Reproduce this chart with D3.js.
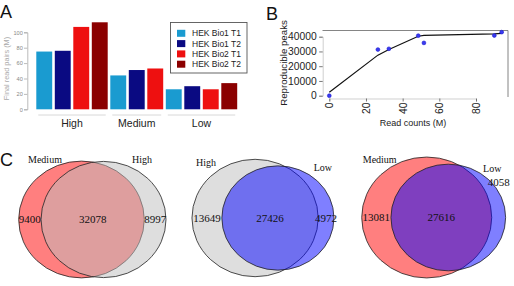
<!DOCTYPE html>
<html><head><meta charset="utf-8">
<script src="https://cdn.jsdelivr.net/npm/d3@7"></script>
<style>body{margin:0;background:#fff}svg{display:block}</style>
</head><body>
<svg id="c" width="514" height="286"></svg>
<script>
// ---------- Panel A data ----------
const groups = ["High", "Medium", "Low"];
const seriesNames = ["HEK Bio1 T1", "HEK Bio1 T2", "HEK Bio2 T1", "HEK Bio2 T2"];
const bio1T1 = [75, 44, 26];
const bio1T2 = [76, 51, 30];
const bio2T1 = [107, 53, 26];
const bio2T2 = [113, null, 34];
const yTicksA = [0, 20, 40, 60, 80, 100];

// ---------- Panel B data ----------
const readCounts = [0, 26.5, 32.5, 48.5, 51.6, 90, 94];
const peaks = [0, 31300, 31800, 40700, 35800, 40800, 43100];
const fitX = [0, 26.5, 32.5, 48.5, 51.6, 90, 94];
const fitY = [2300, 27500, 31300, 40300, 40900, 41900, 42200];
const xTicksB = [0, 20, 40, 60, 80];
const yTicksB = [0, 10000, 20000, 30000, 40000];

// ---------- Panel C data ----------
const vennLeftNames = ["Medium", "High", "Medium"];
const vennRightNames = ["High", "Low", "Low"];
const vennLeftOnly = [9400, 13649, 13081];
const vennOverlap = [32078, 27426, 27616];
const vennRightOnly = [8997, 4972, 4058];

// ---------- styles ----------
const seriesColors = ["#1a9bd0", "#0a0a82", "#ee1010", "#8b0000"];
const vennLeftColors = ["#ff0000", "#bebebe", "#ff0000"];
const vennRightColors = ["#bebebe", "#0000ff", "#0000ff"];
const SANS = "Liberation Sans, Arial, sans-serif";
const SERIF = "Liberation Serif, Times New Roman, serif";

const svg = d3.select("#c");

// panel letters
[["A", 0, 18], ["B", 266, 20], ["C", 0, 166]].forEach(([t, x, y]) => {
  svg.append("text").attr("x", x).attr("y", y).text(t)
    .attr("font-family", SANS).attr("font-size", 18).attr("fill", "#111");
});

// ================= Panel A =================
(function () {
  const seriesVals = [bio1T1, bio1T2, bio2T1, bio2T2];
  const bars = [];
  groups.forEach((g, gi) => {
    seriesNames.forEach((s, si) => {
      const v = seriesVals[si][gi];
      if (v != null) bars.push({ g: gi, s: si, v: v, id: bars.length });
    });
  });
  const x = d3.scaleBand().domain(bars.map(b => b.id)).range([35, 238.5])
    .paddingInner(0.14).paddingOuter(0.07);
  const y = d3.scaleLinear().domain([0, 100]).range([109.3, 32.3]);

  const gA = svg.append("g");
  gA.selectAll("rect.bar").data(bars).join("rect")
    .attr("x", d => x(d.id)).attr("width", x.bandwidth())
    .attr("y", d => y(d.v)).attr("height", d => y(0) - y(d.v))
    .attr("fill", d => seriesColors[d.s]);

  // y axis
  const ax = gA.append("g").attr("transform", "translate(27.3,0)")
    .call(d3.axisLeft(y).tickValues(yTicksA).tickSize(3.3).tickPadding(1.2));
  ax.select(".domain").attr("stroke", "#aaa").attr("stroke-width", 0.8);
  ax.selectAll(".tick line").attr("stroke", "#aaa").attr("stroke-width", 0.8);
  ax.selectAll("text").attr("font-family", SANS).attr("font-size", 5.6).attr("fill", "#888");

  gA.append("text").attr("transform", "translate(8.5,68.5) rotate(-90)")
    .attr("text-anchor", "middle").attr("font-family", SANS).attr("font-size", 7.3)
    .attr("fill", "#aaa").text("Final read pairs (M)");

  // group underline and labels
  groups.forEach((g, gi) => {
    const gb = bars.filter(b => b.g === gi);
    const x0 = x(gb[0].id) + 2, x1 = x(gb[gb.length - 1].id) + x.bandwidth() - 2;
    gA.append("line").attr("x1", x0).attr("x2", x1).attr("y1", 115).attr("y2", 115)
      .attr("stroke", "#d8d8d8").attr("stroke-width", 1);
    gA.append("text").attr("x", (x0 + x1) / 2).attr("y", 127).attr("text-anchor", "middle")
      .attr("font-family", SANS).attr("font-size", 10.5).attr("fill", "#222").text(g);
  });

  // legend
  const lg = gA.append("g");
  lg.append("rect").attr("x", 170.5).attr("y", 22.5).attr("width", 76.5).attr("height", 50.5)
    .attr("fill", "#fff").attr("stroke", "#555").attr("stroke-width", 0.9);
  seriesNames.forEach((s, i) => {
    const yy = 33.3 + i * 10.3;
    lg.append("rect").attr("x", 177).attr("y", yy - 3.5).attr("width", 8.3).attr("height", 7)
      .attr("fill", seriesColors[i]);
    lg.append("text").attr("x", 192).attr("y", yy + 3).attr("font-family", SANS)
      .attr("font-size", 8.5).attr("fill", "#222").text(s);
  });
})();

// ================= Panel B =================
(function () {
  const x = d3.scaleLinear().domain([0, 80]).range([329.3, 476]);
  const y = d3.scaleLinear().domain([0, 40000]).range([95.7, 36.7]);
  const gB = svg.append("g");

  // partial box (top and right)
  gB.append("path").attr("d", "M322.5,30.5H508V97")
    .attr("fill", "none").attr("stroke", "#666").attr("stroke-width", 0.8);

  const ay = gB.append("g").attr("transform", "translate(322.7,0)")
    .call(d3.axisLeft(y).tickValues(yTicksB).tickSize(3.5).tickPadding(2.5).tickFormat(d3.format("d")));
  ay.select(".domain").attr("stroke", "#bbb").attr("stroke-width", 0.7);
  ay.selectAll(".tick line").attr("stroke", "#555").attr("stroke-width", 0.8);
  ay.selectAll("text").attr("font-family", SANS).attr("font-size", 10.3).attr("fill", "#222");

  const axx = gB.append("g").attr("transform", "translate(0,98.5)")
    .call(d3.axisBottom(x).tickValues(xTicksB).tickSize(3).tickPadding(0));
  axx.select(".domain").attr("stroke", "#bbb").attr("stroke-width", 0.7);
  axx.selectAll(".tick line").attr("stroke", "#555").attr("stroke-width", 0.8);
  axx.selectAll("text").attr("font-family", SANS).attr("font-size", 10.3).attr("fill", "#222")
    .attr("transform", "translate(0,4) rotate(-90)").attr("text-anchor", "end")
    .attr("x", 0).attr("y", 0).attr("dy", "0.35em");

  gB.append("text").attr("x", 413).attr("y", 126).attr("text-anchor", "middle")
    .attr("font-family", SANS).attr("font-size", 9).attr("fill", "#222").text("Read counts (M)");
  gB.append("text").attr("transform", "translate(286.5,63) rotate(-90)").attr("text-anchor", "middle")
    .attr("font-family", SANS).attr("font-size", 9.7).attr("fill", "#222").text("Reproducible peaks");

  const fit = fitX.map((v, i) => [v, fitY[i]]);
  gB.append("path").datum(fit)
    .attr("d", d3.line().x(d => x(d[0])).y(d => y(d[1])))
    .attr("fill", "none").attr("stroke", "#111").attr("stroke-width", 1.2);

  const pts = readCounts.map((v, i) => [v, peaks[i]]);
  gB.selectAll("circle.pt").data(pts).join("circle")
    .attr("cx", d => x(d[0])).attr("cy", d => y(d[1])).attr("r", 1.9)
    .attr("fill", "#3a3af0").attr("stroke", "#1a1ad0").attr("stroke-width", 0.6);
})();

// ================= Panel C =================
(function () {
  function lens(r1, r2, d) {
    if (d >= r1 + r2) return 0;
    if (d <= Math.abs(r1 - r2)) return Math.PI * Math.min(r1, r2) ** 2;
    const a1 = r1 * r1 * Math.acos((d * d + r1 * r1 - r2 * r2) / (2 * d * r1));
    const a2 = r2 * r2 * Math.acos((d * d + r2 * r2 - r1 * r1) / (2 * d * r2));
    const k = 0.5 * Math.sqrt((-d + r1 + r2) * (d + r1 - r2) * (d - r1 + r2) * (d + r1 + r2));
    return a1 + a2 - k;
  }
  const maxTotal = d3.max(vennLeftOnly.map((v, i) => v + vennOverlap[i]));
  const rScale = d3.scaleSqrt().domain([0, maxTotal]).range([0, 62.8]);
  const sizeFactor = [1, 1.01, 1.045];
  const midX = [92.5, 266.5, 437.5];
  const cyArr = [219.5, 218, 217.5];
  const ryRatio = 0.93;
  const nameDx = [[-36.5, 38.5], [-49, 45], [-47, 44]];
  const nameY = [[163, 163], [166, 171], [163, 172]];

  const gC = svg.append("g");
  vennOverlap.forEach((ov, i) => {
    const f = sizeFactor[i];
    const tA = vennLeftOnly[i] + ov, tB = vennRightOnly[i] + ov;
    const rA = rScale(tA) * f, rB = rScale(tB) * f;
    const unit = Math.PI * rA * rA / tA;
    const target = ov * unit;
    let lo = Math.abs(rA - rB), hi = rA + rB;
    for (let k = 0; k < 60; k++) {
      const m = (lo + hi) / 2;
      if (lens(rA, rB, m) > target) lo = m; else hi = m;
    }
    const d = (lo + hi) / 2;
    const cxA = midX[i] - d / 2, cxB = midX[i] + d / 2, cy = cyArr[i];

    gC.append("ellipse").attr("cx", cxA).attr("cy", cy).attr("rx", rA).attr("ry", rA * ryRatio)
      .attr("fill", vennLeftColors[i]).attr("fill-opacity", 0.5)
      .attr("stroke", "#222").attr("stroke-width", 0.8);
    gC.append("ellipse").attr("cx", cxB).attr("cy", cy).attr("rx", rB).attr("ry", rB * ryRatio)
      .attr("fill", vennRightColors[i]).attr("fill-opacity", 0.5)
      .attr("stroke", "#222").attr("stroke-width", 0.8);

    const lA = cxA - rA, rAe = cxA + rA, lB = cxB - rB, rBe = cxB + rB;
    const num = (t, x, y) => gC.append("text").attr("x", x).attr("y", y).attr("text-anchor", "middle")
      .attr("font-family", SERIF).attr("font-size", 11).attr("fill", "#111").text(t);
    num(vennLeftOnly[i], (lA + lB) / 2, cy + 3.5);
    num(vennOverlap[i], (lB + rAe) / 2, cy + 3.5);
    if (rBe - rAe < 15) num(vennRightOnly[i], rBe - 7, cy - 31.5);
    else num(vennRightOnly[i], (rAe + rBe) / 2, cy + 3.5);

    const name = (t, x, y) => gC.append("text").attr("x", x).attr("y", y).attr("text-anchor", "middle")
      .attr("font-family", SERIF).attr("font-size", 10).attr("fill", "#111").text(t);
    name(vennLeftNames[i], cxA + nameDx[i][0], nameY[i][0]);
    name(vennRightNames[i], cxB + nameDx[i][1], nameY[i][1]);
  });
})();
</script>
</body></html>
